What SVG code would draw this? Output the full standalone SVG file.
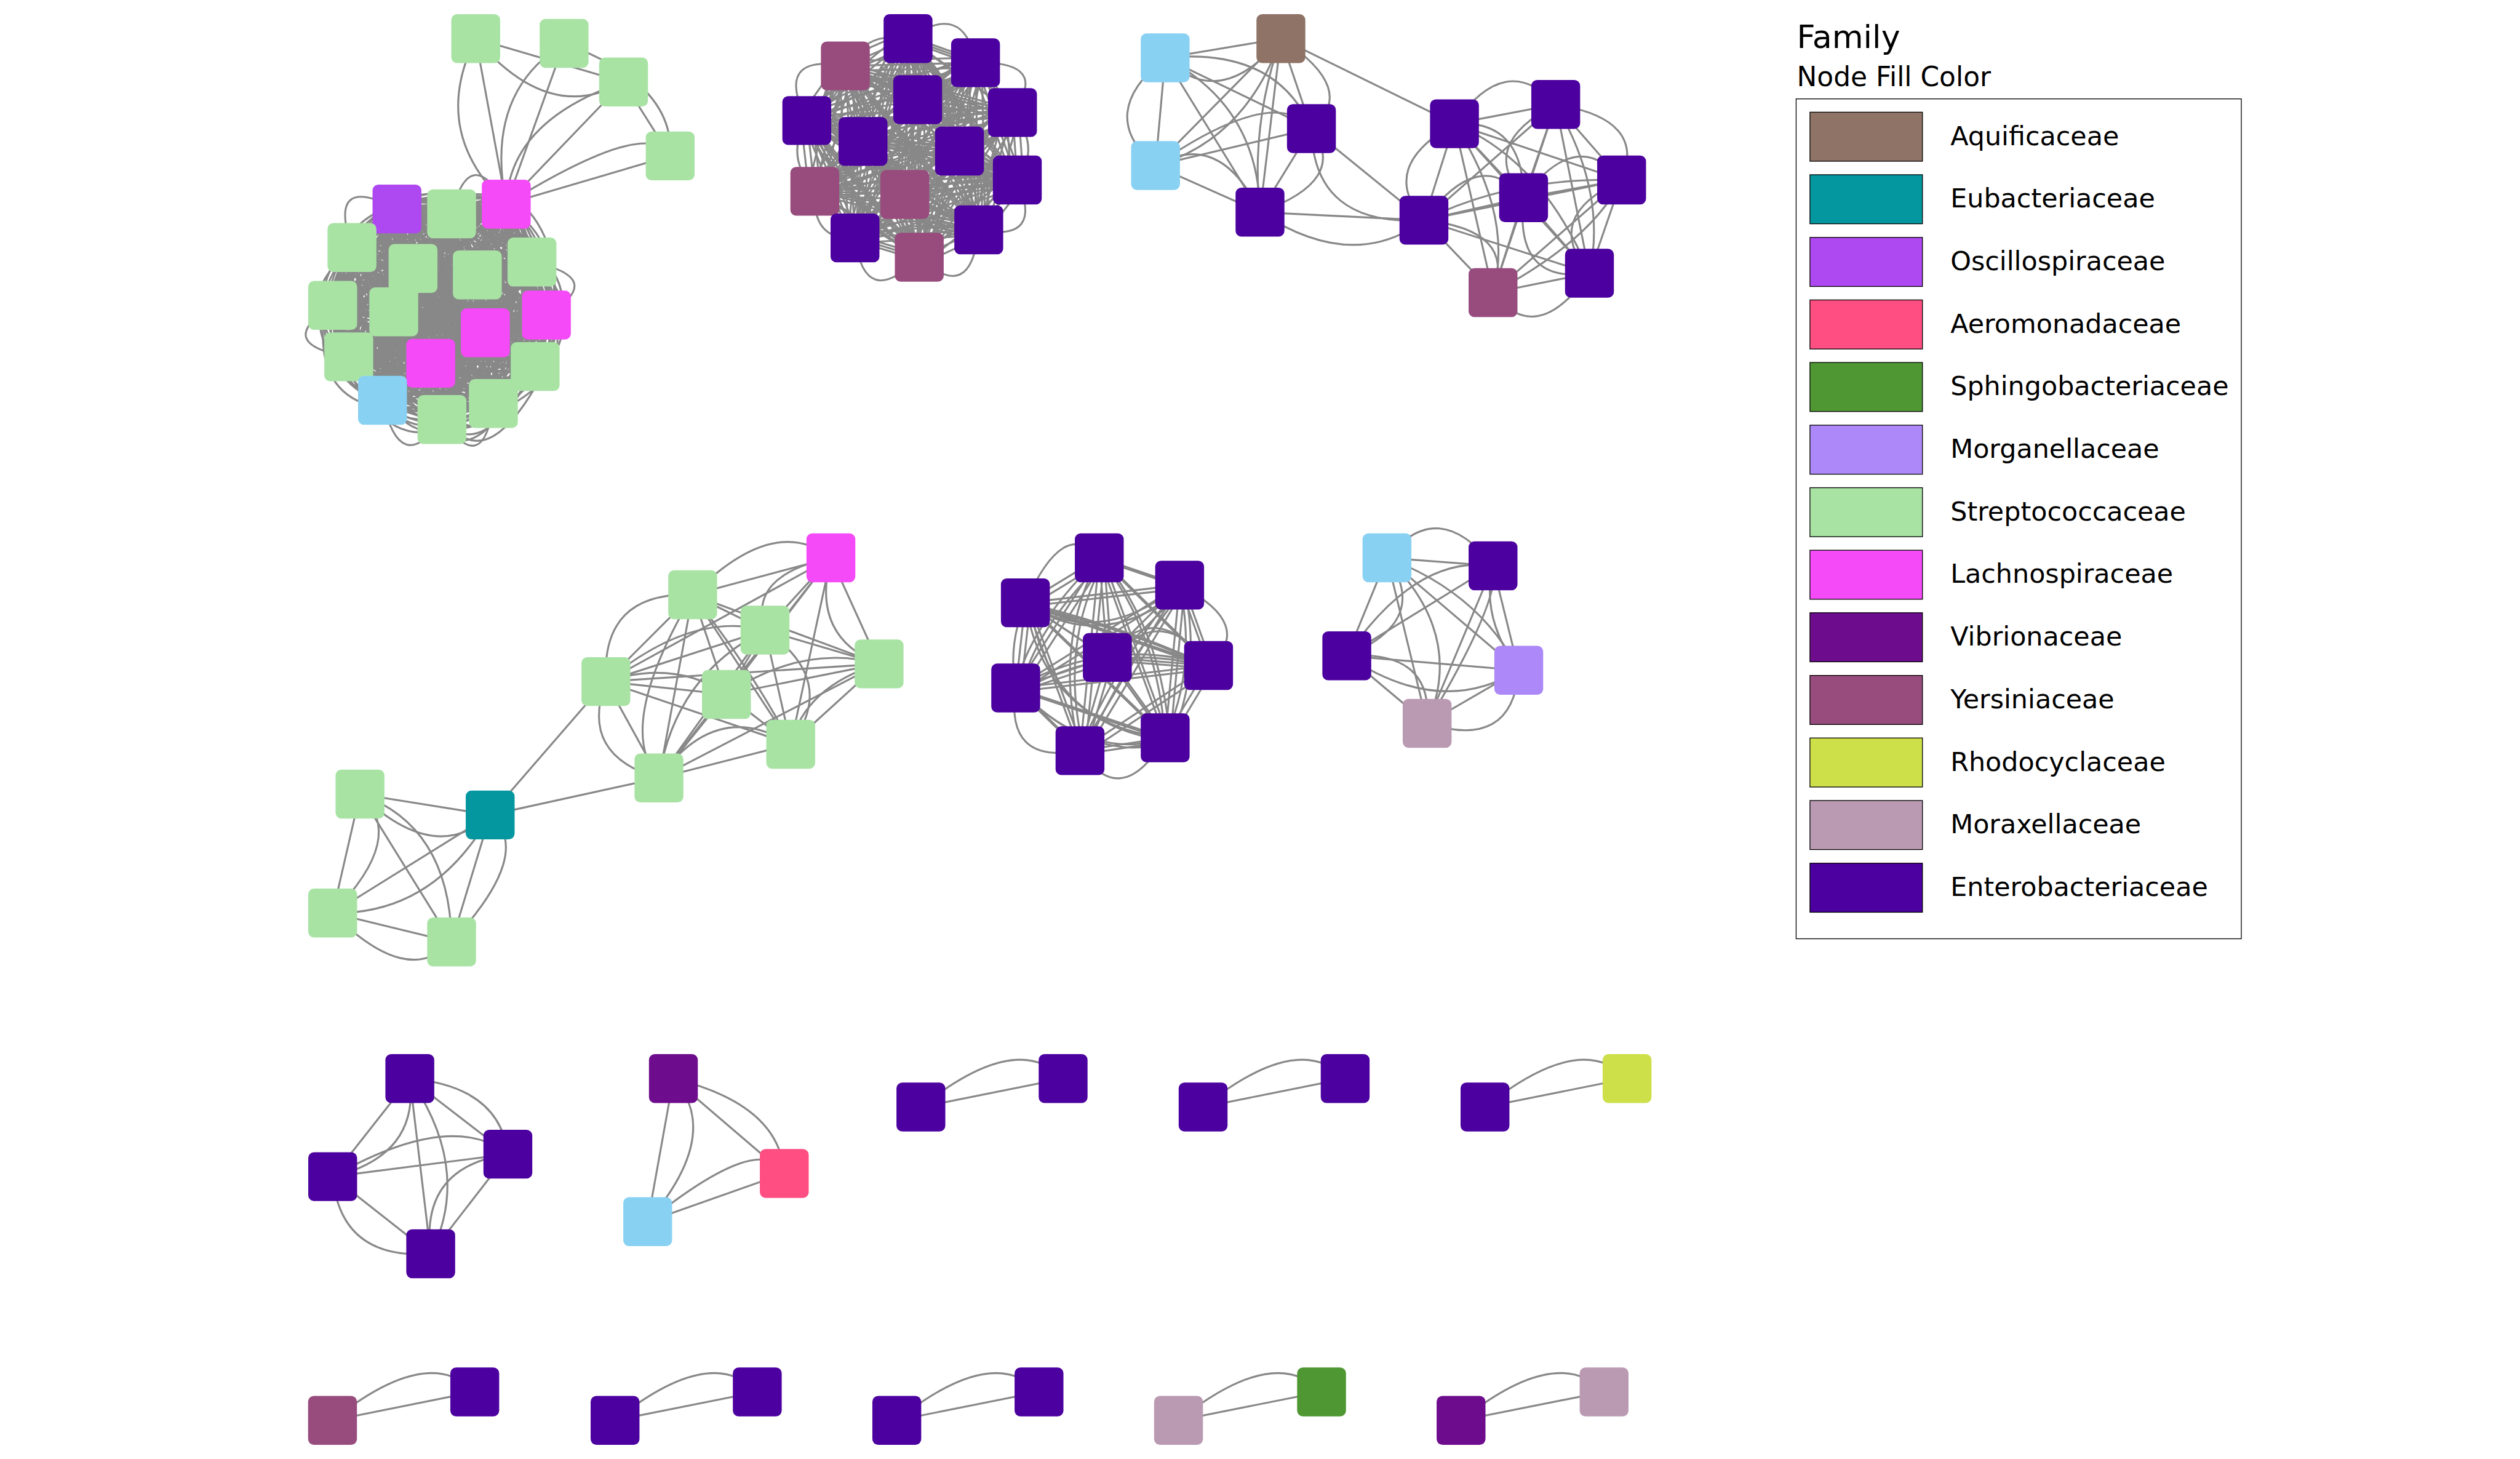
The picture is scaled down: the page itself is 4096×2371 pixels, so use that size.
<svg xmlns="http://www.w3.org/2000/svg" width="4096" height="2371" viewBox="0 0 4096 2371">
<style>
.e{fill:none;stroke:#888888;stroke-width:1.2;stroke-linecap:round}
.nd{stroke:none}
.ent{fill:#4b009f}.yer{fill:#984c7e}.vib{fill:#6e0c8e}.aqu{fill:#8e7366}.eub{fill:#04979f}.osc{fill:#ae48f1}.aer{fill:#ff4e82}.sph{fill:#4f9732}.mor{fill:#ac88f8}.str{fill:#a8e3a4}.lac{fill:#f54af7}.rho{fill:#cde04a}.mox{fill:#ba9ab3}.unk{fill:#89d1f3}
.sw{stroke:#000;stroke-width:0.5}
.lt{font-family:"DejaVu Sans",Verdana,sans-serif;font-size:16.4px;fill:#000}
.hd{font-family:"DejaVu Sans",Verdana,sans-serif;fill:#000}
</style>
<defs>
<rect id="sq" x="-15.2" y="-15.2" width="30.4" height="30.4" rx="3.6"/>
</defs>
<rect width="4096" height="2371" fill="#fff"/>
<g transform="scale(2.61224)">
<g id="edges" class="e">
<!-- cluster A top -->
<path d="M296 24L388 51"/><path d="M296 24Q342 78 388 51"/><path d="M351 27Q420 52 417 97"/>
<path d="M296 24L315 127"/><path d="M296 24Q267 82 315 127"/>
<path d="M351 27L315 127"/><path d="M351 27Q301 58 315 127"/>
<path d="M388 51L315 127"/><path d="M388 51Q317 75 315 127"/>
<path d="M388 51L417 97"/><path d="M417 97L315 127"/><path d="M417 97Q404 72 315 127"/>
<!-- cluster A dense -->
<g id="ea-dense">
<path d="M315 127L247 130M315 127L281 133M315 127L219 154M315 127L257 167M315 127L297 171M315 127L331 163M315 127L207 190M315 127L245 194M315 127L340 196M315 127L302 207M315 127L217 222M315 127L268 226M315 127L333 228M315 127L238 249M315 127L307 251M315 127L275 261"/>
<path d="M247 130L281 133M247 130L219 154M247 130L257 167M247 130L297 171M247 130L331 163M247 130L207 190M247 130L245 194M247 130L340 196M247 130L302 207M247 130L217 222M247 130L268 226M247 130L333 228M247 130L238 249M247 130L307 251M247 130L275 261"/>
<path d="M281 133L219 154M281 133L257 167M281 133L297 171M281 133L331 163M281 133L207 190M281 133L245 194M281 133L340 196M281 133L302 207M281 133L217 222M281 133L268 226M281 133L333 228M281 133L238 249M281 133L307 251M281 133L275 261"/>
<path d="M219 154L257 167M219 154L297 171M219 154L331 163M219 154L207 190M219 154L245 194M219 154L340 196M219 154L302 207M219 154L217 222M219 154L268 226M219 154L333 228M219 154L238 249M219 154L307 251M219 154L275 261"/>
<path d="M257 167L297 171M257 167L331 163M257 167L207 190M257 167L245 194M257 167L340 196M257 167L302 207M257 167L217 222M257 167L268 226M257 167L333 228M257 167L238 249M257 167L307 251M257 167L275 261"/>
<path d="M297 171L331 163M297 171L207 190M297 171L245 194M297 171L340 196M297 171L302 207M297 171L217 222M297 171L268 226M297 171L333 228M297 171L238 249M297 171L307 251M297 171L275 261"/>
<path d="M331 163L207 190M331 163L245 194M331 163L340 196M331 163L302 207M331 163L217 222M331 163L268 226M331 163L333 228M331 163L238 249M331 163L307 251M331 163L275 261"/>
<path d="M207 190L245 194M207 190L340 196M207 190L302 207M207 190L217 222M207 190L268 226M207 190L333 228M207 190L238 249M207 190L307 251M207 190L275 261"/>
<path d="M245 194L340 196M245 194L302 207M245 194L217 222M245 194L268 226M245 194L333 228M245 194L238 249M245 194L307 251M245 194L275 261"/>
<path d="M340 196L302 207M340 196L217 222M340 196L268 226M340 196L333 228M340 196L238 249M340 196L307 251M340 196L275 261"/>
<path d="M302 207L217 222M302 207L268 226M302 207L333 228M302 207L238 249M302 207L307 251M302 207L275 261"/>
<path d="M217 222L268 226M217 222L333 228M217 222L238 249M217 222L307 251M217 222L275 261"/>
<path d="M268 226L333 228M268 226L238 249M268 226L307 251M268 226L275 261"/>
<path d="M333 228L238 249M333 228L307 251M333 228L275 261M238 249L307 251M238 249L275 261M307 251L275 261"/>
<path d="M219 154Q240 120 315 127"/><path d="M207 190Q230 140 281 133"/><path d="M217 222Q200 170 247 130"/>
<path d="M238 249Q200 210 219 154"/><path d="M275 261Q240 230 207 190"/><path d="M307 251Q350 230 340 196"/>
<path d="M333 228Q360 190 331 163"/><path d="M340 196Q345 150 315 127"/><path d="M275 261Q300 290 333 228"/>
<path d="M238 249Q260 280 307 251"/><path d="M247 130Q300 110 331 163"/><path d="M281 133Q330 130 340 196"/>
<path d="M207 190Q200 240 238 249"/><path d="M219 154Q190 200 217 222"/><path d="M257 167Q290 200 333 228"/>
<path d="M245 194Q270 230 307 251"/><path d="M302 207Q280 180 257 167"/><path d="M297 171Q250 210 217 222"/>
</g>
<use href="#ea-dense" transform="translate(5,4)"/>
<use href="#ea-dense" transform="translate(-5,4)"/>
<use href="#ea-dense" transform="translate(4,-5)"/>
<use href="#ea-dense" transform="translate(-4,-4)"/>
<path d="M219 154Q203 107 247 130"/><path d="M281 133Q292 88 315 127"/><path d="M331 163Q379 173 340 196"/>
<path d="M207 190Q169 214 217 222"/><path d="M219 154Q187 184 207 190"/><path d="M238 249Q249 298 275 261"/>
<path d="M275 261Q301 298 307 251"/>
<!-- cluster B -->
<g id="eb-dense">
<path d="M565 24L526 41M565 24L607 39M565 24L571 62M565 24L630 70M565 24L502 75M565 24L537 88M565 24L597 94M565 24L633 112M565 24L507 119M565 24L563 121M565 24L532 148M565 24L609 143M565 24L572 160"/>
<path d="M526 41L607 39M526 41L571 62M526 41L630 70M526 41L502 75M526 41L537 88M526 41L597 94M526 41L633 112M526 41L507 119M526 41L563 121M526 41L532 148M526 41L609 143M526 41L572 160"/>
<path d="M607 39L571 62M607 39L630 70M607 39L502 75M607 39L537 88M607 39L597 94M607 39L633 112M607 39L507 119M607 39L563 121M607 39L532 148M607 39L609 143M607 39L572 160"/>
<path d="M571 62L630 70M571 62L502 75M571 62L537 88M571 62L597 94M571 62L633 112M571 62L507 119M571 62L563 121M571 62L532 148M571 62L609 143M571 62L572 160"/>
<path d="M630 70L502 75M630 70L537 88M630 70L597 94M630 70L633 112M630 70L507 119M630 70L563 121M630 70L532 148M630 70L609 143M630 70L572 160"/>
<path d="M502 75L537 88M502 75L597 94M502 75L633 112M502 75L507 119M502 75L563 121M502 75L532 148M502 75L609 143M502 75L572 160"/>
<path d="M537 88L597 94M537 88L633 112M537 88L507 119M537 88L563 121M537 88L532 148M537 88L609 143M537 88L572 160"/>
<path d="M597 94L633 112M597 94L507 119M597 94L563 121M597 94L532 148M597 94L609 143M597 94L572 160"/>
<path d="M633 112L507 119M633 112L563 121M633 112L532 148M633 112L609 143M633 112L572 160"/>
<path d="M507 119L563 121M507 119L532 148M507 119L609 143M507 119L572 160M563 121L532 148M563 121L609 143M563 121L572 160M532 148L609 143M532 148L572 160M609 143L572 160"/>
<path d="M526 41Q560 60 607 39"/><path d="M502 75Q540 40 571 62"/><path d="M537 88Q580 70 630 70"/>
<path d="M507 119Q540 100 597 94"/><path d="M563 121Q600 110 633 112"/><path d="M532 148Q560 130 609 143"/>
<path d="M565 24Q600 60 597 94"/><path d="M526 41Q500 90 537 88"/><path d="M571 62Q620 90 609 143"/>
<path d="M502 75Q530 130 572 160"/><path d="M537 88Q560 150 609 143"/><path d="M565 24Q530 70 563 121"/>
<path d="M607 39Q560 90 532 148"/><path d="M630 70Q580 110 572 160"/>
</g>
<use href="#eb-dense" transform="translate(4,3)"/>
<use href="#eb-dense" transform="translate(-4,-3)"/>
<path d="M565 24Q600 0 607 39"/><path d="M607 39Q654 38 630 70"/><path d="M526 41Q481 33 502 75"/>
<path d="M502 75Q488 97 507 119"/><path d="M633 112Q650 151 609 143"/><path d="M532 148Q538 194 572 160"/>
<path d="M572 160Q604 190 609 143"/><path d="M565 24Q540 19 526 41"/><path d="M630 70Q648 91 633 112"/>
<path d="M507 119Q505 150 532 148"/>
<!-- cluster C -->
<path d="M725 36L797 24M725 36L816 80M725 36L784 132M725 36L719 103M797 24L719 103M797 24L784 132M797 24L816 80M797 24L905 77M719 103L816 80M719 103L784 132M816 80L784 132M816 80L886 137M784 132L886 137"/>
<path d="M725 36Q794 29 816 80"/><path d="M725 36Q759 70 797 24"/><path d="M725 36Q783 66 784 132"/>
<path d="M725 36Q681 71 719 103"/><path d="M797 24Q775 87 719 103"/><path d="M797 24Q846 56 816 80"/>
<path d="M797 24Q778 78 784 132"/><path d="M719 103Q793 52 816 80"/><path d="M719 103Q759 80 784 132"/>
<path d="M816 80Q840 112 784 132"/><path d="M816 80Q817 141 886 137"/><path d="M784 132Q842 170 886 137"/>
<path d="M886 137L905 77M886 137L968 65M886 137L948 123M886 137L1009 112M886 137L989 170M886 137L929 182M905 77L968 65M905 77L948 123M905 77L1009 112M905 77L989 170M905 77L929 182M968 65L948 123M968 65L1009 112M968 65L989 170M968 65L929 182M948 123L1009 112M948 123L989 170M948 123L929 182M1009 112L989 170M1009 112L929 182M989 170L929 182"/>
<path d="M905 77Q937 31 968 65"/><path d="M968 65Q1025 74 1009 112"/><path d="M886 137Q857 104 905 77"/>
<path d="M989 170Q956 217 929 182"/><path d="M886 137Q944 143 929 182"/><path d="M905 77Q948 74 948 123"/>
<path d="M886 137Q921 90 948 123"/><path d="M948 123Q981 78 1009 112"/><path d="M948 123Q942 177 989 170"/>
<path d="M1009 112Q959 135 989 170"/><path d="M968 65Q919 90 948 123"/><path d="M905 77Q942 134 929 182"/>
<path d="M929 182Q990 150 1009 112"/><path d="M886 137Q940 110 1009 112"/><path d="M905 77Q960 100 989 170"/>
<path d="M968 65Q1000 120 989 170"/>
<!-- cluster D -->
<path d="M224 494L305 507"/><path d="M224 494Q271 539 305 507"/>
<path d="M224 494L207 568"/><path d="M224 494Q254 520 207 568"/>
<path d="M224 494L281 586"/><path d="M224 494Q280 514 281 586"/>
<path d="M305 507L207 568"/><path d="M305 507Q270 569 207 568"/>
<path d="M305 507L281 586"/><path d="M305 507Q333 530 281 586"/>
<path d="M207 568L281 586"/><path d="M207 568Q254 615 281 586"/>
<path d="M305 507L377 424"/><path d="M305 507L410 484"/>
<path d="M377 424L431 370M377 424L476 392M377 424L452 432M377 424L410 484M377 424L492 463M377 424L547 413M377 424L517 347M431 370L476 392M431 370L452 432M431 370L410 484M431 370L492 463M431 370L547 413M431 370L517 347M476 392L452 432M476 392L410 484M476 392L492 463M476 392L547 413M476 392L517 347"/>
<path d="M452 432L410 484M452 432L492 463M452 432L547 413M452 432L517 347M410 484L492 463M410 484L547 413M410 484L517 347M492 463L547 413M492 463L517 347M547 413L517 347"/>
<path d="M431 370Q482 319 517 347"/><path d="M377 424Q374 368 431 370"/><path d="M377 424Q360 470 410 484"/>
<path d="M410 484Q446 434 492 463"/><path d="M517 347Q504 396 547 413"/><path d="M547 413Q501 427 492 463"/>
<path d="M517 347Q465 358 476 392"/><path d="M476 392Q522 423 492 463"/><path d="M431 370Q382 453 410 484"/>
<path d="M377 424Q430 380 476 392"/><path d="M410 484Q420 420 476 392"/><path d="M452 432Q500 400 547 413"/>
<path d="M377 424Q420 410 452 432"/><path d="M431 370Q470 420 492 463"/>
<!-- cluster E -->
<g id="ee-dense">
<path d="M684 347L638 375M684 347L734 364M684 347L689 409M684 347L752 414M684 347L632 428M684 347L725 459M684 347L672 467M638 375L734 364M638 375L689 409M638 375L752 414M638 375L632 428M638 375L725 459M638 375L672 467"/>
<path d="M734 364L689 409M734 364L752 414M734 364L632 428M734 364L725 459M734 364L672 467M689 409L752 414M689 409L632 428M689 409L725 459M689 409L672 467M752 414L632 428M752 414L725 459M752 414L672 467M632 428L725 459M632 428L672 467M725 459L672 467"/>
<path d="M638 375Q684 404 734 364"/><path d="M689 409Q719 370 752 414"/>
<path d="M684 347Q720 391 725 459"/><path d="M684 347Q655 400 672 467"/>
<path d="M734 364Q690 420 672 467"/><path d="M638 375Q700 390 752 414"/><path d="M632 428Q680 475 725 459"/>
<path d="M684 347Q640 390 632 428"/><path d="M734 364Q745 415 725 459"/><path d="M638 375Q650 450 725 459"/>
<path d="M632 428Q690 395 752 414"/>
</g>
<use href="#ee-dense" transform="translate(3,2)"/>
<path d="M638 375Q662 321 684 347"/><path d="M734 364Q782 389 752 414"/><path d="M632 428Q625 476 672 467"/>
<path d="M672 467Q698 505 725 459"/><path d="M638 375Q627 401 632 428"/>
<!-- cluster F -->
<path d="M863 347L929 352M863 347L838 408M863 347L945 417M863 347L888 450M929 352L838 408M929 352L945 417M929 352L888 450M838 408L945 417M838 408L888 450M945 417L888 450"/>
<path d="M863 347Q895 308 929 352"/><path d="M863 347Q891 386 838 408"/><path d="M863 347Q921 369 945 417"/>
<path d="M863 347Q912 395 888 450"/><path d="M929 352Q881 345 838 408"/><path d="M929 352Q921 384 945 417"/>
<path d="M929 352Q935 371 888 450"/><path d="M838 408Q896 447 945 417"/><path d="M838 408Q892 404 888 450"/>
<path d="M945 417Q941 467 888 450"/>
<!-- cluster G -->
<path d="M255 671L207 732"/><path d="M255 671Q261 719 207 732"/>
<path d="M255 671L316 718"/><path d="M255 671Q311 676 316 718"/>
<path d="M255 671L268 780"/><path d="M255 671Q294 728 268 780"/>
<path d="M207 732L316 718"/><path d="M207 732Q281 690 316 718"/>
<path d="M207 732L268 780"/><path d="M207 732Q212 784 268 780"/>
<path d="M316 718L268 780"/><path d="M316 718Q261 726 268 780"/>
<path d="M419 671L488 730"/><path d="M419 671Q485 687 488 730"/>
<path d="M419 671L403 760"/><path d="M419 671Q450 705 403 760"/>
<path d="M488 730L403 760"/><path d="M488 730Q474 703 403 760"/>
<!-- pairs -->
<path d="M573 688.7L661.5 671"/><path d="M573 688.7Q633 640.7 661.5 671"/>
<path d="M748.6 688.7L837 671"/><path d="M748.6 688.7Q808.6 640.7 837 671"/>
<path d="M924 688.7L1012.4 671"/><path d="M924 688.7Q984 640.7 1012.4 671"/>
<path d="M206.9 883.6L295.4 865.9"/><path d="M206.9 883.6Q266.9 835.6 295.4 865.9"/>
<path d="M382.7 883.6L471.2 865.9"/><path d="M382.7 883.6Q442.7 835.6 471.2 865.9"/>
<path d="M558 883.6L646.5 865.9"/><path d="M558 883.6Q618 835.6 646.5 865.9"/>
<path d="M733.3 883.6L822.3 865.9"/><path d="M733.3 883.6Q793.3 835.6 822.3 865.9"/>
<path d="M909.1 883.6L998.1 865.9"/><path d="M909.1 883.6Q969.1 835.6 998.1 865.9"/>
</g>
<g id="nodes" class="nd">
<g id="a-t1" transform="translate(296,24)"><use href="#sq" class="str"/></g>
<g id="a-t2" transform="translate(351,27)"><use href="#sq" class="str"/></g>
<g id="a-t3" transform="translate(388,51)"><use href="#sq" class="str"/></g>
<g id="a-t4" transform="translate(417,97)"><use href="#sq" class="str"/></g>
<g id="a-h" transform="translate(315,127)"><use href="#sq" class="lac"/></g>
<g id="a-p" transform="translate(247,130)"><use href="#sq" class="osc"/></g>
<g id="a-g1" transform="translate(281,133)"><use href="#sq" class="str"/></g>
<g id="a-g2" transform="translate(219,154)"><use href="#sq" class="str"/></g>
<g id="a-g5" transform="translate(331,163)"><use href="#sq" class="str"/></g>
<g id="a-g3" transform="translate(257,167)"><use href="#sq" class="str"/></g>
<g id="a-g4" transform="translate(297,171)"><use href="#sq" class="str"/></g>
<g id="a-g6" transform="translate(207,190)"><use href="#sq" class="str"/></g>
<g id="a-g7" transform="translate(245,194)"><use href="#sq" class="str"/></g>
<g id="a-m1" transform="translate(340,196)"><use href="#sq" class="lac"/></g>
<g id="a-m2" transform="translate(302,207)"><use href="#sq" class="lac"/></g>
<g id="a-g8" transform="translate(217,222)"><use href="#sq" class="str"/></g>
<g id="a-g9" transform="translate(333,228)"><use href="#sq" class="str"/></g>
<g id="a-m3" transform="translate(268,226)"><use href="#sq" class="lac"/></g>
<g id="a-b" transform="translate(238,249)"><use href="#sq" class="unk"/></g>
<g id="a-g10" transform="translate(307,251)"><use href="#sq" class="str"/></g>
<g id="a-g11" transform="translate(275,261)"><use href="#sq" class="str"/></g>

<g id="b-1" transform="translate(565,24)"><use href="#sq" class="ent"/></g>
<g id="b-2" transform="translate(526,41)"><use href="#sq" class="yer"/></g>
<g id="b-3" transform="translate(607,39)"><use href="#sq" class="ent"/></g>
<g id="b-4" transform="translate(571,62)"><use href="#sq" class="ent"/></g>
<g id="b-5" transform="translate(630,70)"><use href="#sq" class="ent"/></g>
<g id="b-6" transform="translate(502,75)"><use href="#sq" class="ent"/></g>
<g id="b-7" transform="translate(537,88)"><use href="#sq" class="ent"/></g>
<g id="b-8" transform="translate(597,94)"><use href="#sq" class="ent"/></g>
<g id="b-9" transform="translate(633,112)"><use href="#sq" class="ent"/></g>
<g id="b-10" transform="translate(507,119)"><use href="#sq" class="yer"/></g>
<g id="b-11" transform="translate(563,121)"><use href="#sq" class="yer"/></g>
<g id="b-12" transform="translate(532,148)"><use href="#sq" class="ent"/></g>
<g id="b-13" transform="translate(609,143)"><use href="#sq" class="ent"/></g>
<g id="b-14" transform="translate(572,160)"><use href="#sq" class="yer"/></g>

<g id="c-b1" transform="translate(725,36)"><use href="#sq" class="unk"/></g>
<g id="c-br" transform="translate(797,24)"><use href="#sq" class="aqu"/></g>
<g id="c-b2" transform="translate(719,103)"><use href="#sq" class="unk"/></g>
<g id="c-e1" transform="translate(816,80)"><use href="#sq" class="ent"/></g>
<g id="c-e2" transform="translate(784,132)"><use href="#sq" class="ent"/></g>
<g id="c-e3" transform="translate(886,137)"><use href="#sq" class="ent"/></g>
<g id="c-e4" transform="translate(905,77)"><use href="#sq" class="ent"/></g>
<g id="c-e5" transform="translate(968,65)"><use href="#sq" class="ent"/></g>
<g id="c-e6" transform="translate(948,123)"><use href="#sq" class="ent"/></g>
<g id="c-e7" transform="translate(1009,112)"><use href="#sq" class="ent"/></g>
<g id="c-e8" transform="translate(989,170)"><use href="#sq" class="ent"/></g>
<g id="c-y" transform="translate(929,182)"><use href="#sq" class="yer"/></g>

<g id="d-m" transform="translate(517,347)"><use href="#sq" class="lac"/></g>
<g id="d-b" transform="translate(431,370)"><use href="#sq" class="str"/></g>
<g id="d-c" transform="translate(476,392)"><use href="#sq" class="str"/></g>
<g id="d-g" transform="translate(547,413)"><use href="#sq" class="str"/></g>
<g id="d-a" transform="translate(377,424)"><use href="#sq" class="str"/></g>
<g id="d-d" transform="translate(452,432)"><use href="#sq" class="str"/></g>
<g id="d-f" transform="translate(492,463)"><use href="#sq" class="str"/></g>
<g id="d-e" transform="translate(410,484)"><use href="#sq" class="str"/></g>
<g id="d-t" transform="translate(305,507)"><use href="#sq" class="eub"/></g>
<g id="d-g1" transform="translate(224,494)"><use href="#sq" class="str"/></g>
<g id="d-g2" transform="translate(207,568)"><use href="#sq" class="str"/></g>
<g id="d-g3" transform="translate(281,586)"><use href="#sq" class="str"/></g>

<g id="e-1" transform="translate(684,347)"><use href="#sq" class="ent"/></g>
<g id="e-2" transform="translate(638,375)"><use href="#sq" class="ent"/></g>
<g id="e-3" transform="translate(734,364)"><use href="#sq" class="ent"/></g>
<g id="e-4" transform="translate(689,409)"><use href="#sq" class="ent"/></g>
<g id="e-5" transform="translate(752,414)"><use href="#sq" class="ent"/></g>
<g id="e-6" transform="translate(632,428)"><use href="#sq" class="ent"/></g>
<g id="e-7" transform="translate(725,459)"><use href="#sq" class="ent"/></g>
<g id="e-8" transform="translate(672,467)"><use href="#sq" class="ent"/></g>

<g id="f-b" transform="translate(863,347)"><use href="#sq" class="unk"/></g>
<g id="f-e1" transform="translate(929,352)"><use href="#sq" class="ent"/></g>
<g id="f-e2" transform="translate(838,408)"><use href="#sq" class="ent"/></g>
<g id="f-l" transform="translate(945,417)"><use href="#sq" class="mor"/></g>
<g id="f-m" transform="translate(888,450)"><use href="#sq" class="mox"/></g>

<g id="g-t" transform="translate(255,671)"><use href="#sq" class="ent"/></g>
<g id="g-l" transform="translate(207,732)"><use href="#sq" class="ent"/></g>
<g id="g-r" transform="translate(316,718)"><use href="#sq" class="ent"/></g>
<g id="g-b" transform="translate(268,780)"><use href="#sq" class="ent"/></g>
<g id="h-v" transform="translate(419,671)"><use href="#sq" class="vib"/></g>
<g id="h-a" transform="translate(488,730)"><use href="#sq" class="aer"/></g>
<g id="h-b" transform="translate(403,760)"><use href="#sq" class="unk"/></g>

<g id="p1-l" transform="translate(573,688.7)"><use href="#sq" class="ent"/></g>
<g id="p1-u" transform="translate(661.5,671)"><use href="#sq" class="ent"/></g>
<g id="p2-l" transform="translate(748.6,688.7)"><use href="#sq" class="ent"/></g>
<g id="p2-u" transform="translate(837,671)"><use href="#sq" class="ent"/></g>
<g id="p3-l" transform="translate(924,688.7)"><use href="#sq" class="ent"/></g>
<g id="p3-u" transform="translate(1012.4,671)"><use href="#sq" class="rho"/></g>
<g id="p4-l" transform="translate(206.9,883.6)"><use href="#sq" class="yer"/></g>
<g id="p4-u" transform="translate(295.4,865.9)"><use href="#sq" class="ent"/></g>
<g id="p5-l" transform="translate(382.7,883.6)"><use href="#sq" class="ent"/></g>
<g id="p5-u" transform="translate(471.2,865.9)"><use href="#sq" class="ent"/></g>
<g id="p6-l" transform="translate(558,883.6)"><use href="#sq" class="ent"/></g>
<g id="p6-u" transform="translate(646.5,865.9)"><use href="#sq" class="ent"/></g>
<g id="p7-l" transform="translate(733.3,883.6)"><use href="#sq" class="mox"/></g>
<g id="p7-u" transform="translate(822.3,865.9)"><use href="#sq" class="sph"/></g>
<g id="p8-l" transform="translate(909.1,883.6)"><use href="#sq" class="vib"/></g>
<g id="p8-u" transform="translate(998.1,865.9)"><use href="#sq" class="mox"/></g>
</g>
<g id="legend">
<text class="hd" x="1118" y="30" font-size="20">Family</text>
<text class="hd" x="1118" y="53.5" font-size="16.8">Node Fill Color</text>
<rect x="1117.6" y="61.5" width="277" height="522.5" fill="none" stroke="#000" stroke-width="0.5"/>
<rect class="sw aqu" x="1126.2" y="69.8" width="70" height="30.5"/><text class="lt" x="1213.6" y="90.2">Aquificaceae</text>
<rect class="sw eub" x="1126.2" y="108.7" width="70" height="30.5"/><text class="lt" x="1213.6" y="129.1">Eubacteriaceae</text>
<rect class="sw osc" x="1126.2" y="147.7" width="70" height="30.5"/><text class="lt" x="1213.6" y="168.1">Oscillospiraceae</text>
<rect class="sw aer" x="1126.2" y="186.6" width="70" height="30.5"/><text class="lt" x="1213.6" y="207">Aeromonadaceae</text>
<rect class="sw sph" x="1126.2" y="225.5" width="70" height="30.5"/><text class="lt" x="1213.6" y="245.9">Sphingobacteriaceae</text>
<rect class="sw mor" x="1126.2" y="264.5" width="70" height="30.5"/><text class="lt" x="1213.6" y="284.9">Morganellaceae</text>
<rect class="sw str" x="1126.2" y="303.4" width="70" height="30.5"/><text class="lt" x="1213.6" y="323.8">Streptococcaceae</text>
<rect class="sw lac" x="1126.2" y="342.3" width="70" height="30.5"/><text class="lt" x="1213.6" y="362.7">Lachnospiraceae</text>
<rect class="sw vib" x="1126.2" y="381.2" width="70" height="30.5"/><text class="lt" x="1213.6" y="401.6">Vibrionaceae</text>
<rect class="sw yer" x="1126.2" y="420.2" width="70" height="30.5"/><text class="lt" x="1213.6" y="440.6">Yersiniaceae</text>
<rect class="sw rho" x="1126.2" y="459.1" width="70" height="30.5"/><text class="lt" x="1213.6" y="479.5">Rhodocyclaceae</text>
<rect class="sw mox" x="1126.2" y="498" width="70" height="30.5"/><text class="lt" x="1213.6" y="518.4">Moraxellaceae</text>
<rect class="sw ent" x="1126.2" y="537" width="70" height="30.5"/><text class="lt" x="1213.6" y="557.4">Enterobacteriaceae</text>
</g>
</g>
</svg>
